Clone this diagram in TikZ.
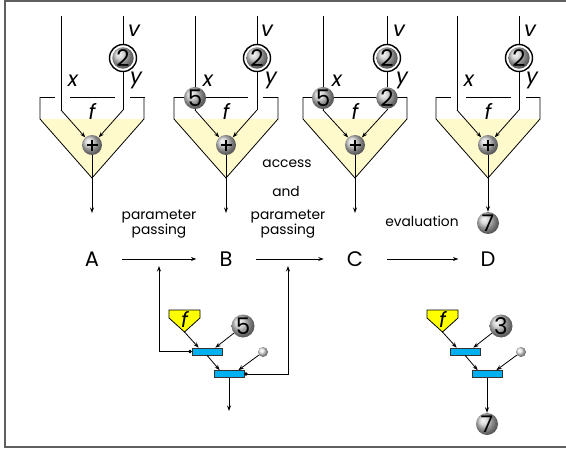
\documentclass[tikz,border=0pt]{standalone}
\usepackage{fontspec}
\setmainfont{Poppins}
\usetikzlibrary{arrows.meta,calc}
\definecolor{trayfill}{RGB}{255,250,204}
\definecolor{fyellow}{RGB}{255,255,0}
\definecolor{barblue}{RGB}{0,176,240}
\definecolor{framegray}{RGB}{95,95,95}

% one evaluation tray with its apex at x = #1
\newcommand\traybody[1]{%
  \fill[trayfill] (#1-52,119) -- (#1+52,119) -- (#1,178) -- cycle;
  \draw[wire] (#1-52,97) -- (#1-52,119) -- (#1,178) -- (#1+52,119) -- (#1+52,97);
}

% small application tree: #1 name prefix, #2 argument digit
\newcommand\applytree[2]{%
  \draw[wire,fill=fyellow] (169,310) -- (200,310) -- (200,318) -- (184.5,332) -- (169,318) -- cycle;
  \coordinate (#1tip) at (184.5,332);
  \node[var] (#1f) at (184.5,319) {f};
  \node[bigball] (#1num) at (243,326) {#2};
  \node[bar] (#1b1) at (207,351.5) {};
  \node[smallball] (#1sb) at (263,352) {};
  \node[bar] (#1b2) at (229,374) {};
  \draw[arr] (#1tip) -- ($(#1b1.north west)+(7,0)$);
  \draw[arr] (#1num) -- ($(#1b1.north east)+(-7,0)$);
  \draw[arr] (#1b1.south) -- ($(#1b2.north west)+(6,0)$);
  \draw[arr] (#1sb) -- ($(#1b2.north east)+(-6,0)$);
}

\begin{document}
\begin{tikzpicture}[x=1pt,y=-1pt,
  wire/.style={line width=0.8pt},
  arr/.style={wire,-{Stealth[length=5.5pt,width=4pt]}},
  dotarr/.style={wire,{Circle[length=3.5pt]}-{Stealth[length=5.5pt,width=4pt]}},
  lbl/.style={font=\fontsize{13.8}{15}\selectfont,inner sep=0pt,align=center},
  stage/.style={font=\fontsize{21}{21}\selectfont,inner sep=0pt},
  var/.style={font=\fontsize{21}{21}\itshape,inner sep=0pt},
  digit/.style={font=\fontsize{23}{23}\selectfont,text=black},
  bigball/.style={circle,inner sep=0pt,minimum size=23pt,ball color=gray!42,digit},
  ball/.style={circle,inner sep=0pt,minimum size=20pt,ball color=gray!42,digit},
  ring/.style={circle,draw,line width=1.4pt,fill=white,inner sep=0pt,minimum size=27pt},
  smallball/.style={circle,inner sep=0pt,minimum size=10pt,ball color=gray!22},
  bar/.style={rectangle,draw=black!80,line width=0.6pt,fill=barblue,inner sep=0pt,
    minimum width=30pt,minimum height=7pt},
  plusball/.style={circle,inner sep=0pt,minimum size=20pt,ball color=gray!42,
    path picture={\draw[line width=1.1pt]
      ($(path picture bounding box.center)+(-5.5,0)$) -- ++(11,0)
      ($(path picture bounding box.center)+(0,-5.5)$) -- ++(0,11);}},
]
\useasboundingbox (0,0) rectangle (566,450);
\draw[framegray,line width=1.5pt] (5,1) rectangle (580,447);

% ---------- panel A: unbound x and y ----------
\traybody{92}
\draw[wire] (40,97) -- (55,97) (70,97) -- (115,97) (130,97) -- (145,97);
\coordinate (tAl) at (61,16);  \coordinate (kAl) at (61,110);
\coordinate (tAr) at (123,16); \coordinate (kAr) at (123,110);
\coordinate (apA) at (92,178); \coordinate (oA) at (92,213);
\node[plusball] (sA) at (92,145) {};
\draw[wire] (tAl) -- (kAl); \draw[arr] (kAl) -- (sA);
\draw[wire] (tAr) -- (kAr); \draw[arr] (kAr) -- (sA);
\node[ring] (rA) at (123,58) {}; \node[ball] (bA) at (rA) {2};
\draw[wire] (sA) -- (apA); \draw[arr] (apA) -- (oA);
\node[var] (xA) at (73,81) {x};
\node[var] (yA) at (136,80) {y};
\node[var] (vA) at (134,31) {v};
\node[var] (fA) at (92,111) {f};

% ---------- panel B: x bound to 5 ----------
\traybody{226}
\draw[wire] (174,97) -- (248,97) (263,97) -- (278,97);
\coordinate (tBl) at (195,16); \node[ball] (xvB) at (195,98) {5};
\coordinate (kBl) at (195,110);
\coordinate (tBr) at (257,16); \coordinate (kBr) at (257,110);
\coordinate (apB) at (226,178); \coordinate (oB) at (226,213);
\node[plusball] (sB) at (226,145) {};
\draw[wire] (tBl) -- (xvB); \draw[wire] (xvB) -- (kBl); \draw[arr] (kBl) -- (sB);
\draw[wire] (tBr) -- (kBr); \draw[arr] (kBr) -- (sB);
\node[ring] (rB) at (257,58) {}; \node[ball] (bB) at (rB) {2};
\draw[wire] (sB) -- (apB); \draw[arr] (apB) -- (oB);
\node[var] (xB) at (208,81) {x};
\node[var] (yB) at (271,80) {y};
\node[var] (vB) at (267,31) {v};
\node[var] (fB) at (226,111) {f};

% ---------- panel C: x bound to 5, y bound to 2 ----------
\traybody{355}
\draw[wire] (303,97) -- (407,97);
\coordinate (tCl) at (323,16); \node[ball] (xvC) at (323,98) {5};
\coordinate (kCl) at (323,110);
\coordinate (tCr) at (387,16); \node[ball] (yvC) at (387,98) {2};
\coordinate (kCr) at (387,110);
\coordinate (apC) at (355,178); \coordinate (oC) at (355,213);
\node[plusball] (sC) at (355,145) {};
\draw[wire] (tCl) -- (xvC); \draw[wire] (xvC) -- (kCl); \draw[arr] (kCl) -- (sC);
\draw[wire] (tCr) -- (yvC); \draw[wire] (yvC) -- (kCr); \draw[arr] (kCr) -- (sC);
\node[ring] (rC) at (387,58) {}; \node[ball] (bC) at (rC) {2};
\draw[wire] (sC) -- (apC); \draw[arr] (apC) -- (oC);
\node[var] (xC) at (337,81) {x};
\node[var] (yC) at (402,80) {y};
\node[var] (vC) at (399,31) {v};
\node[var] (fC) at (355,111) {f};

% ---------- panel D: result ----------
\traybody{488}
\draw[wire] (436,97) -- (451,97) (466,97) -- (511,97) (526,97) -- (540,97);
\coordinate (tDl) at (457,16); \coordinate (kDl) at (457,110);
\coordinate (tDr) at (519,16); \coordinate (kDr) at (519,110);
\coordinate (apD) at (488,178);
\node[plusball] (sD) at (488,145) {};
\draw[wire] (tDl) -- (kDl); \draw[arr] (kDl) -- (sD);
\draw[wire] (tDr) -- (kDr); \draw[arr] (kDr) -- (sD);
\node[ring] (rD) at (519,58) {}; \node[ball] (bD) at (rD) {2};
\node[ball,minimum size=22pt] (resD) at (488,223) {7};
\draw[wire] (sD) -- (apD); \draw[arr] (apD) -- (resD);
\node[var] (xD) at (469,81) {x};
\node[var] (yD) at (532,80) {y};
\node[var] (vD) at (530,31) {v};
\node[var] (fD) at (488,111) {f};

% ---------- stages ----------
\node[stage] (A) at (92,259) {A};
\node[stage] (B) at (226,259) {B};
\node[stage] (C) at (355,259) {C};
\node[stage] (D) at (488,259) {D};
\draw[arr,shorten <=23pt,shorten >=23pt] (A) -- (B);
\draw[arr,shorten <=23pt,shorten >=23pt] (B) -- (C);
\draw[arr,shorten <=24pt,shorten >=22pt] (C) -- (D);

\node[lbl] (pp1) at (159,224.5) {parameter\\passing};
\node[lbl] (acc) at (287,164) {access};
\node[lbl] (and) at (286,191) {and};
\node[lbl] (pp2) at (288,224.5) {parameter\\passing};
\node[lbl] (ev) at (422,221) {evaluation};

% ---------- application trees ----------
\applytree{L}{5}
\coordinate (fbA) at (159,266);
\coordinate (fbB) at (288,266);
\coordinate (outL) at (229,411);
\draw[dotarr] (Lb1.west) -| (fbA);
\draw[dotarr] (Lb2.east) -| (fbB);
\draw[arr] (Lb2.south) -- (outL);

\begin{scope}[shift={(258,0)}]
  \applytree{R}{3}
  \node[bigball,minimum size=22pt] (resR) at (229,424) {7};
  \draw[arr] (Rb2.south) -- (resR);
\end{scope}
\end{tikzpicture}
\end{document}
